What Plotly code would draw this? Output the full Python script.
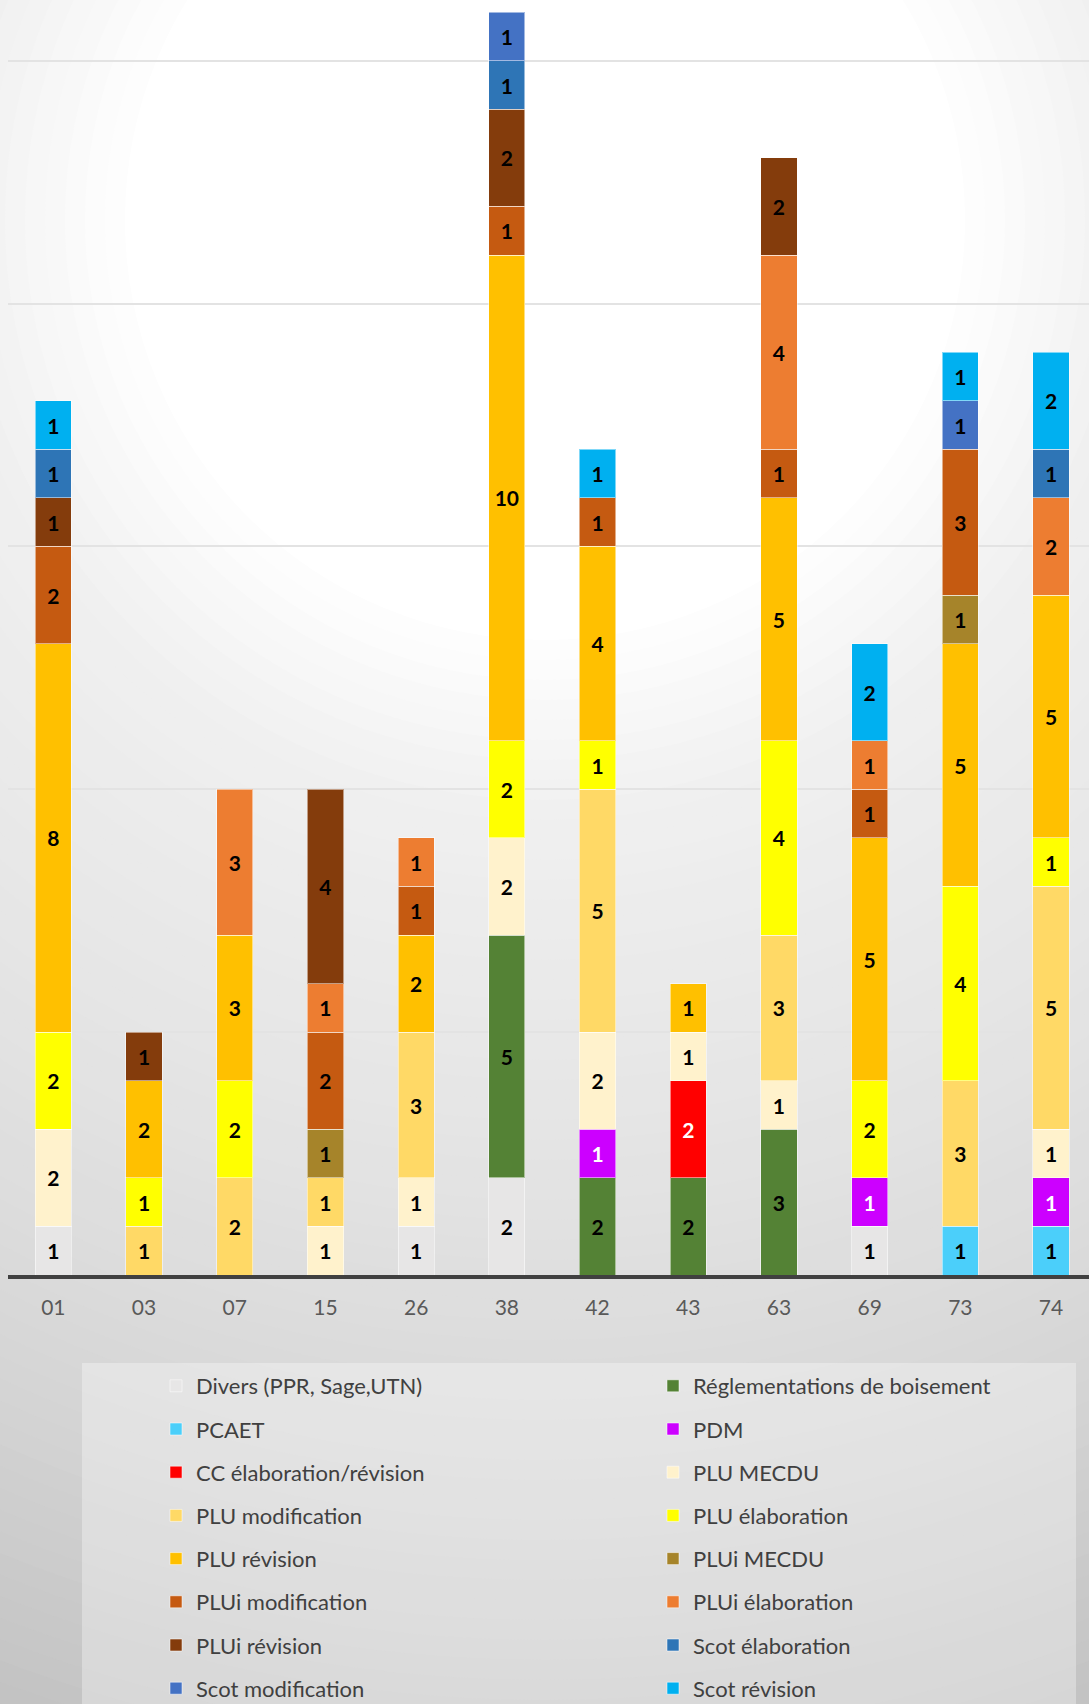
import plotly.graph_objects as go

# ---------------- data ----------------
categories = ["01", "03", "07", "15", "26", "38", "42", "43", "63", "69", "73", "74"]

series_names = [
    "Divers (PPR, Sage,UTN)", "Réglementations de boisement", "PCAET", "PDM",
    "CC élaboration/révision", "PLU MECDU", "PLU modification", "PLU élaboration",
    "PLU révision", "PLUi MECDU", "PLUi modification", "PLUi élaboration",
    "PLUi révision", "Scot élaboration", "Scot modification", "Scot révision",
]

#                  01 03 07 15 26 38 42 43 63 69 73 74
divers          = [1, 0, 0, 0, 1, 2, 0, 0, 0, 1, 0, 0]
reglementations = [0, 0, 0, 0, 0, 5, 2, 2, 3, 0, 0, 0]
pcaet           = [0, 0, 0, 0, 0, 0, 0, 0, 0, 0, 1, 1]
pdm             = [0, 0, 0, 0, 0, 0, 1, 0, 0, 1, 0, 1]
cc_elab_rev     = [0, 0, 0, 0, 0, 0, 0, 2, 0, 0, 0, 0]
plu_mecdu       = [2, 0, 0, 1, 1, 2, 2, 1, 1, 0, 0, 1]
plu_modif       = [0, 1, 2, 1, 3, 0, 5, 0, 3, 0, 3, 5]
plu_elab        = [2, 1, 2, 0, 0, 2, 1, 0, 4, 2, 4, 1]
plu_revision    = [8, 2, 3, 0, 2, 10, 4, 1, 5, 5, 5, 5]
plui_mecdu      = [0, 0, 0, 1, 0, 0, 0, 0, 0, 0, 1, 0]
plui_modif      = [2, 0, 0, 2, 1, 1, 1, 0, 1, 1, 3, 0]
plui_elab       = [0, 0, 3, 1, 1, 0, 0, 0, 4, 1, 0, 2]
plui_revision   = [1, 1, 0, 4, 0, 2, 0, 0, 2, 0, 0, 0]
scot_elab       = [1, 0, 0, 0, 0, 1, 0, 0, 0, 0, 0, 1]
scot_modif      = [0, 0, 0, 0, 0, 1, 0, 0, 0, 0, 1, 0]
scot_revision   = [1, 0, 0, 0, 0, 0, 1, 0, 0, 2, 1, 2]

series_values = [divers, reglementations, pcaet, pdm, cc_elab_rev, plu_mecdu,
                 plu_modif, plu_elab, plu_revision, plui_mecdu, plui_modif,
                 plui_elab, plui_revision, scot_elab, scot_modif, scot_revision]

series_colors = ["#E7E6E6", "#548235", "#4BCFFA", "#CC00FF", "#FF0000", "#FFF2CC",
                 "#FFD966", "#FFFF00", "#FFC000", "#A6842A", "#C55A11", "#ED7D31",
                 "#843C0C", "#2E75B6", "#4472C4", "#00B0F0"]
label_colors = ["black"] * 16
label_colors[3] = "white"   # PDM
label_colors[4] = "white"   # CC

# ---------------- geometry ----------------
W, H = 1089, 1704
ML, MR, MT, MB = 8, 0, 0, 429
PW, PH = W - ML - MR, H - MT - MB
SLOT = 90.7
YMAX = 26.25


def px_x(p):
    return (p - ML) / PW


def px_y(p):
    return (MT + PH - p) / PH


fig = go.Figure()

for i, (name, vals, col, lc) in enumerate(zip(series_names, series_values,
                                               series_colors, label_colors)):
    yv = [v if v else None for v in vals]
    fig.add_trace(go.Bar(
        x=categories, y=yv, name=name,
        marker=dict(color=col, line=dict(color="rgba(255,255,255,0.5)", width=1)),
        text=[str(v) if v else "" for v in vals],
        textposition="inside", insidetextanchor="middle", textangle=0,
        constraintext="none",
        textfont=dict(family="Lato", size=21, color=lc, weight="bold"),
        width=0.4,
        legend="legend" if i % 2 == 0 else "legend2",
        legendgroup=name,
        hoverinfo="skip",
    ))

# ---------------- background radial gradient ----------------
stops = [(0, 255), (420, 255), (600, 240), (1000, 226), (1250, 215), (1700, 188)]


def gray(d):
    for (d0, g0), (d1, g1) in zip(stops[:-1], stops[1:]):
        if d <= d1:
            return g0 + (g1 - g0) * (d - d0) / (d1 - d0)
    return stops[-1][1]


shapes = []
cx, cy = 545, 220
r = 1760
while r >= 400:
    g = int(round(gray(r)))
    shapes.append(dict(type="circle", xref="paper", yref="paper",
                       x0=px_x(cx - r), x1=px_x(cx + r),
                       y0=px_y(cy + r), y1=px_y(cy - r),
                       fillcolor=f"rgb({g},{g},{g})", line=dict(width=0),
                       layer="below"))
    r -= 20

# legend panel
shapes.append(dict(type="rect", xref="paper", yref="paper",
                   x0=px_x(82), x1=px_x(1076), y0=px_y(1710), y1=px_y(1363),
                   fillcolor="rgba(255,255,255,0.32)", line=dict(width=0),
                   layer="below"))

g_out = int(round(gray(1760)))

legend_common = dict(
    orientation="v", xanchor="left", yanchor="top",
    bgcolor="rgba(0,0,0,0)", borderwidth=0, traceorder="grouped",
    tracegroupgap=11.6, font=dict(family="Lato", size=22, color="#404040"),
)

fig.update_layout(
    width=W, height=H,
    margin=dict(l=ML, r=MR, t=MT, b=MB, pad=0, autoexpand=False),
    barmode="stack",
    paper_bgcolor=f"rgb({g_out},{g_out},{g_out})",
    plot_bgcolor="rgba(0,0,0,0)",
    shapes=shapes,
    font=dict(family="Lato", color="#404040"),
    xaxis=dict(
        type="category", range=[-0.5, -0.5 + PW / SLOT],
        showgrid=False, showline=True, linecolor="#404040", linewidth=3.5,
        ticks="outside", ticklen=11, tickcolor="rgba(0,0,0,0)",
        tickfont=dict(family="Lato", size=21, color="#595959"),
        fixedrange=True,
    ),
    yaxis=dict(
        range=[0, YMAX], dtick=5, showticklabels=False, showline=False,
        showgrid=True, gridcolor="#e3e3e3", gridwidth=1.5, zeroline=False,
        fixedrange=True,
    ),
    legend=dict(x=px_x(156), y=px_y(1365), **legend_common),
    legend2=dict(x=px_x(653), y=px_y(1365), **legend_common),
    showlegend=True,
)

fig.write_html(
    "out.html",
    config={"displayModeBar": False},
    post_script="document.body.style.margin='0';document.body.style.padding='0';"
                "document.body.style.overflow='hidden';",
)
